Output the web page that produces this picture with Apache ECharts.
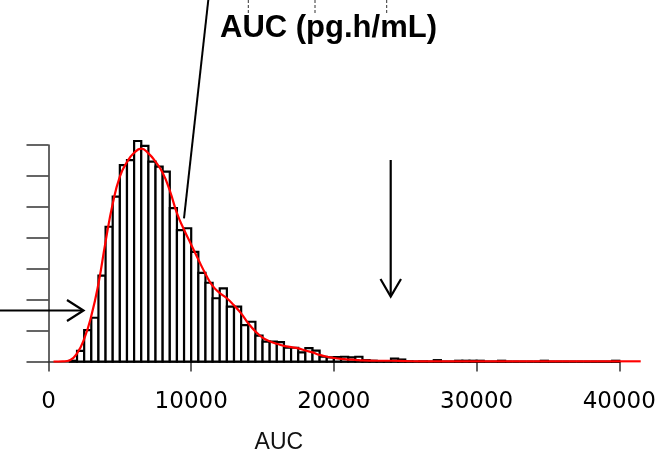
<!DOCTYPE html>
<html>
<head>
<meta charset="utf-8">
<script src="https://cdn.jsdelivr.net/npm/echarts@6/dist/echarts.min.js"></script>
<style>html,body{margin:0;padding:0;background:#fff;}#c{width:666px;height:455px;}</style>
</head>
<body>
<div id="c"></div>
<script>
// Histogram bins (AUC, bin width 500) and counts
const binStart = [1500,2000,2500,3000,3500,4000,4500,5000,5500,6000,6500,7000,7500,8000,8500,9000,9500,10000,10500,11000,11500,12000,12500,13000,13500,14000,14500,15000,15500,16000,16500,17000,17500,18000,18500,19000,19500,20000,20500,21000,21500,22000,22500,23000,23500,24000,24500,25000,25500,26000,26500,27000,27500,28000,28500,29000,29500,30000,30500,31000,31500,32000,32500,33000,33500,34000,34500,35000,35500,36000,36500,37000,37500,38000,38500,39000,39500];
const binCount = [3,35,102,142,278,436,533,635,651,713,697,646,630,614,496,425,431,355,287,255,205,237,178,178,118,129,84,65,65,63,45,45,30,44,36,16,14,15,16,14,16,5,3,2,2,10,7,1,0,1,0,5,0,0,3,3,3,3,0,0,3,0,0,0,0,0,3,0,0,0,0,0,0,0,0,0,3];
const binWidth = 500;
// Density curve (scaled to counts)
const curveX = [350,1000,1500,2000,2500,3000,3500,4000,4500,5000,5500,6000,6500,7000,7500,8000,8500,9000,9500,10000,10500,11000,11500,12000,12500,13000,13500,14000,14500,15000,15500,16000,16500,17000,17500,18000,18500,19000,19500,20000,20500,21000,21500,22000,23000,24000,25000,26000,28000,30000,35000,41500];
const curveY = [0,1,5,27,74,148,252,388,510,598,645,675,688,673,646,610,553,480,426,378,330,284,245,222,205,182,156,124,98,78,66,58,51,47,43,36,30,22,16,12,9,7,6,4,3,3,2,1,1,1,1,1];
// Axis ticks
const xTicks = [0,10000,20000,30000,40000];
const yTickMax = 700, yTickStep = 100;

const chart = echarts.init(document.getElementById('c'), null, {renderer:'canvas'});
const k = 570.8/40000;
const ky = 216.7/700;
const baseY = 361.7;
const dataXMax = 42000, dataYMax = 750;
const axisColor = '#333';

const barData = binStart.map((s,i)=>[s, s+binWidth, binCount[i]]);
const lineData = curveX.map((x,i)=>[x, curveY[i]]);

chart.setOption({
  animation:false,
  backgroundColor:'#fff',
  title:{
    text:'AUC (pg.h/mL)', left:215, top:8,
    textStyle:{fontFamily:'Liberation Sans', fontWeight:'bold', fontSize:31, color:'#000'}
  },
  grid:[
    {left:48.5, width:dataXMax*k, top:baseY-dataYMax*ky, height:dataYMax*ky, containLabel:false},
    {left:48.5, width:40000*k, top:baseY-700*ky, height:700*ky, containLabel:false}
  ],
  xAxis:[
    {gridIndex:0, type:'value', min:0, max:dataXMax, show:false},
    {gridIndex:1, type:'value', min:0, max:40000, interval:10000, offset:9.5,
     axisLine:{show:true, lineStyle:{color:axisColor, width:1.5}},
     axisTick:{show:true, length:10, lineStyle:{color:axisColor, width:1.5}},
     splitLine:{show:false},
     axisLabel:{margin:20, fontFamily:'DejaVu Sans', fontSize:23, color:'#000',
       formatter:function(v){ return xTicks.indexOf(v) >= 0 ? String(v) : ''; }},
     name:'AUC', nameLocation:'middle', nameGap:60,
     nameTextStyle:{fontFamily:'Liberation Sans', fontSize:23, color:'#111', padding:[0,110,0,0]}
    }
  ],
  yAxis:[
    {gridIndex:0, type:'value', min:0, max:dataYMax, show:false},
    {gridIndex:1, type:'value', min:0, max:yTickMax, interval:yTickStep,
     axisLine:{show:true, lineStyle:{color:axisColor, width:1.5}},
     axisTick:{show:true, length:22, lineStyle:{color:axisColor, width:1.5}},
     axisLabel:{show:false}, splitLine:{show:false}}
  ],
  series:[
    {type:'custom', xAxisIndex:0, yAxisIndex:0, data:barData, z:2, clip:false,
     encode:{x:[0,1], y:2},
     renderItem:function(params, api){
       const p0 = api.coord([api.value(0), api.value(2)]);
       const p1 = api.coord([api.value(1), 0]);
       return {type:'rect', shape:{x:p0[0], y:p0[1], width:p1[0]-p0[0], height:p1[1]-p0[1]},
         style:{fill:'#fff', stroke:'#000', lineWidth:2.2}};
     }},
    {type:'line', xAxisIndex:0, yAxisIndex:0, data:lineData, smooth:0.5, showSymbol:false, z:5,
     lineStyle:{color:'#ff0000', width:2.2}}
  ],
  graphic:[
    {type:'line', shape:{x1:208.3, y1:0, x2:184, y2:218.3}, style:{stroke:'#000', lineWidth:2}, z:10},
    {type:'line', shape:{x1:248.3, y1:0, x2:248.3, y2:27}, style:{stroke:'#333', lineWidth:1, lineDash:[3,2]}, z:10},
    {type:'line', shape:{x1:315, y1:0, x2:315, y2:15}, style:{stroke:'#333', lineWidth:1, lineDash:[3,2]}, z:10},
    {type:'line', shape:{x1:386.7, y1:0, x2:386.7, y2:15}, style:{stroke:'#333', lineWidth:1, lineDash:[3,2]}, z:10},
    {type:'line', shape:{x1:0, y1:310.5, x2:83, y2:310.5}, style:{stroke:'#000', lineWidth:2.2}, z:10},
    {type:'polyline', shape:{points:[[67,300],[83.5,310.5],[67,321]]}, style:{stroke:'#000', lineWidth:2.2, fill:null}, z:10},
    {type:'line', shape:{x1:390.7, y1:160, x2:390.7, y2:296}, style:{stroke:'#000', lineWidth:2.2}, z:10},
    {type:'polyline', shape:{points:[[380.5,279],[390.7,296.5],[401,279]]}, style:{stroke:'#000', lineWidth:2.2, fill:null}, z:10}
  ]
});
</script>
</body>
</html>
